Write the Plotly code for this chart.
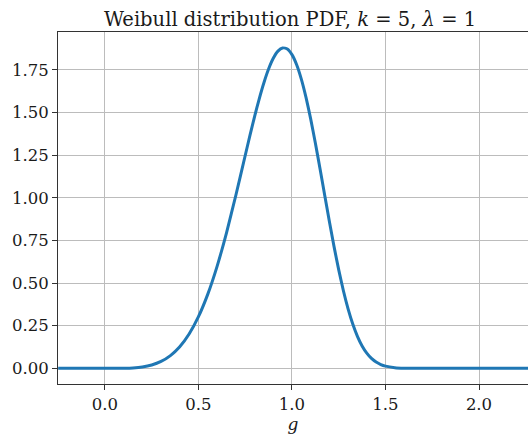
import plotly.graph_objects as go

# values
g_values = [-0.25, -0.2, -0.1, 0.0, 0.05, 0.1, 0.15, 0.2, 0.25, 0.3, 0.35, 0.4, 0.45, 0.5,
            0.55, 0.6, 0.65, 0.7, 0.75, 0.775, 0.8, 0.825, 0.85, 0.875, 0.9, 0.925, 0.95,
            0.975, 1.0, 1.025, 1.05, 1.075, 1.1, 1.125, 1.15, 1.175, 1.2, 1.225, 1.25,
            1.275, 1.3, 1.325, 1.35, 1.375, 1.4, 1.425, 1.45, 1.475, 1.5, 1.55, 1.6,
            1.65, 1.7, 1.8, 1.9, 2.0, 2.1, 2.2, 2.3]
pdf_values = [0.0, 0.0, 0.0, 0.0, 0.0000, 0.0005, 0.0025, 0.0080, 0.0195, 0.0404, 0.0746,
              0.1267, 0.2013, 0.3029, 0.4351, 0.5995, 0.7948, 1.0148, 1.2479, 1.3639,
              1.4758, 1.5805, 1.6748, 1.7549, 1.8177, 1.8597, 1.8785, 1.8722, 1.8394,
              1.7804, 1.6961, 1.5890, 1.4626, 1.3211, 1.1703, 1.0149, 0.8611, 0.7135,
              0.5771, 0.4547, 0.3485, 0.2595, 0.1876, 0.1311, 0.0887, 0.0579, 0.0364,
              0.0220, 0.0128, 0.0038, 0.0009, 0.0002, 0.0, 0.0, 0.0, 0.0, 0.0, 0.0, 0.0]
x_ticks = [0.0, 0.5, 1.0, 1.5, 2.0]
x_tick_labels = ["0.0", "0.5", "1.0", "1.5", "2.0"]
y_ticks = [0.0, 0.25, 0.5, 0.75, 1.0, 1.25, 1.5, 1.75]
y_tick_labels = ["0.00", "0.25", "0.50", "0.75", "1.00", "1.25", "1.50", "1.75"]

FONT = "DejaVu Serif"

fig = go.Figure()
fig.add_trace(go.Scatter(
    x=g_values, y=pdf_values, mode="lines",
    line=dict(color="#1f77b4", width=3, shape="spline", smoothing=0.5),
    showlegend=False, hoverinfo="skip",
))

fig.update_layout(
    width=528, height=435,
    margin=dict(l=58, r=0, t=32, b=51),
    paper_bgcolor="white", plot_bgcolor="white",
    font=dict(family=FONT, size=16.5, color="#1a1a1a"),
    title=dict(
        text="Weibull distribution PDF, <i>k</i> = 5, <i>λ</i> = 1",
        x=(290 - 58) / 470, xref="paper", xanchor="center",
        y=1 - 19 / 435, yref="container", yanchor="middle",
        font=dict(family=FONT, size=19.5, color="#1a1a1a"),
    ),
    xaxis=dict(
        range=[-0.251, 2.262],
        tickmode="array", tickvals=x_ticks, ticktext=x_tick_labels,
        showgrid=True, gridcolor="#bcbcbc", gridwidth=1,
        zeroline=False,
        showline=True, linecolor="#333333", linewidth=1, mirror=True,
        ticks="outside", ticklen=5, tickwidth=1, tickcolor="#333333",
        title=dict(text="<i>g</i>", standoff=4, font=dict(family=FONT, size=17)),
    ),
    yaxis=dict(
        range=[-0.092, 1.972],
        tickmode="array", tickvals=y_ticks, ticktext=y_tick_labels,
        showgrid=True, gridcolor="#bcbcbc", gridwidth=1,
        zeroline=False,
        showline=True, linecolor="#333333", linewidth=1, mirror=False,
        ticks="outside", ticklen=5, tickwidth=1, tickcolor="#333333",
    ),
)

fig.write_html("out.html")
